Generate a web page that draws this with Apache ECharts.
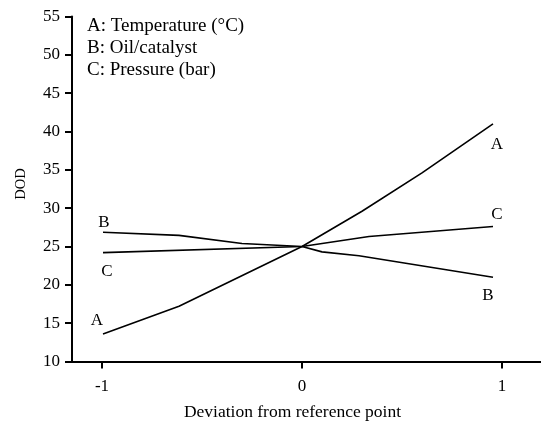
<!DOCTYPE html>
<html>
<head>
<meta charset="utf-8">
<script src="https://cdn.jsdelivr.net/npm/echarts@6/dist/echarts.min.js"></script>
<style>html,body{margin:0;padding:0;background:#fff}#c{width:541px;height:423px}</style>
</head>
<body>
<div id="c"></div>
<script>
var FONT = '"Liberation Serif", "DejaVu Serif", serif';
var xA = [-0.995, -0.615, 0, 0.3, 0.6, 0.955];
var yA = [13.6, 17.2, 25.0, 29.6, 34.6, 41.0];
var xB = [-0.995, -0.615, -0.3, 0, 0.1, 0.285, 0.955];
var yB = [26.85, 26.45, 25.4, 25.0, 24.3, 23.8, 21.0];
var xC = [-0.995, 0, 0.335, 0.955];
var yC = [24.2, 25.0, 26.3, 27.6];
var xTicks = [-1, 0, 1];
var legendLines = ['A: Temperature (\u00B0C)', 'B: Oil/catalyst', 'C: Pressure (bar)'];
var seriesNames = ['A', 'B', 'C'];
var startOffsets = [[-6, -13], [1, -10], [4, 19]];
var endOffsets = [[4, 21], [-5, 18], [4, -12]];

function build(xs, ys, idx) {
  return xs.map(function (x, i) {
    var item = { value: [x, ys[i]] };
    if (i === 0 || i === xs.length - 1) {
      item.label = {
        show: true, position: 'inside', formatter: seriesNames[idx],
        offset: i === 0 ? startOffsets[idx] : endOffsets[idx],
        fontFamily: FONT, fontSize: 17, color: '#000'
      };
    }
    return item;
  });
}

var allX = [xA, xB, xC], allY = [yA, yB, yC];
var series = allX.map(function (xs, k) {
  return {
    type: 'line', name: seriesNames[k], data: build(xs, allY[k], k),
    symbol: 'circle', symbolSize: 1, showSymbol: true,
    itemStyle: { color: 'rgba(0,0,0,0)' },
    lineStyle: { color: '#000', width: 1.6 },
    emphasis: { disabled: true }, silent: true, z: 3
  };
});

var chart = echarts.init(document.getElementById('c'), null, { renderer: 'canvas' });
chart.setOption({
  animation: false,
  backgroundColor: '#fff',
  textStyle: { fontFamily: FONT },
  grid: { left: 72, right: 0, top: 16.5, bottom: 61.5, containLabel: false, outerBoundsMode: 'none' },
  xAxis: {
    type: 'value', min: -1.15, max: 1.195,
    name: 'Deviation from reference point', nameLocation: 'middle', nameGap: 42,
    nameTextStyle: { fontFamily: FONT, fontSize: 17.5, color: '#000', padding: [0, 28, 0, 0] },
    axisLine: { show: true, onZero: false, lineStyle: { color: '#000', width: 2 } },
    axisTick: { show: true, inside: false, length: 7, customValues: xTicks, lineStyle: { color: '#000', width: 2 } },
    axisLabel: { customValues: xTicks, margin: 17, fontFamily: FONT, fontSize: 17, color: '#000',
      formatter: function (v) { return String(v); } },
    splitLine: { show: false }
  },
  yAxis: {
    type: 'value', min: 10, max: 55, interval: 5,
    name: 'DOD', nameLocation: 'middle', nameGap: 43, nameRotate: 90,
    nameTextStyle: { fontFamily: FONT, fontSize: 14.5, color: '#000', padding: [0, 0, 0, 10] },
    axisLine: { show: true, onZero: false, lineStyle: { color: '#000', width: 2 } },
    axisTick: { show: true, inside: false, length: 7, lineStyle: { color: '#000', width: 2 } },
    axisLabel: { margin: 12, fontFamily: FONT, fontSize: 17, color: '#000' },
    splitLine: { show: false }
  },
  graphic: legendLines.map(function (t, i) {
    return {
      type: 'text', left: 87, top: 17 + i * 22, silent: true,
      style: { text: t, fontFamily: FONT, fontSize: 19, fill: '#000' }
    };
  }),
  series: series
});
</script>
</body>
</html>
